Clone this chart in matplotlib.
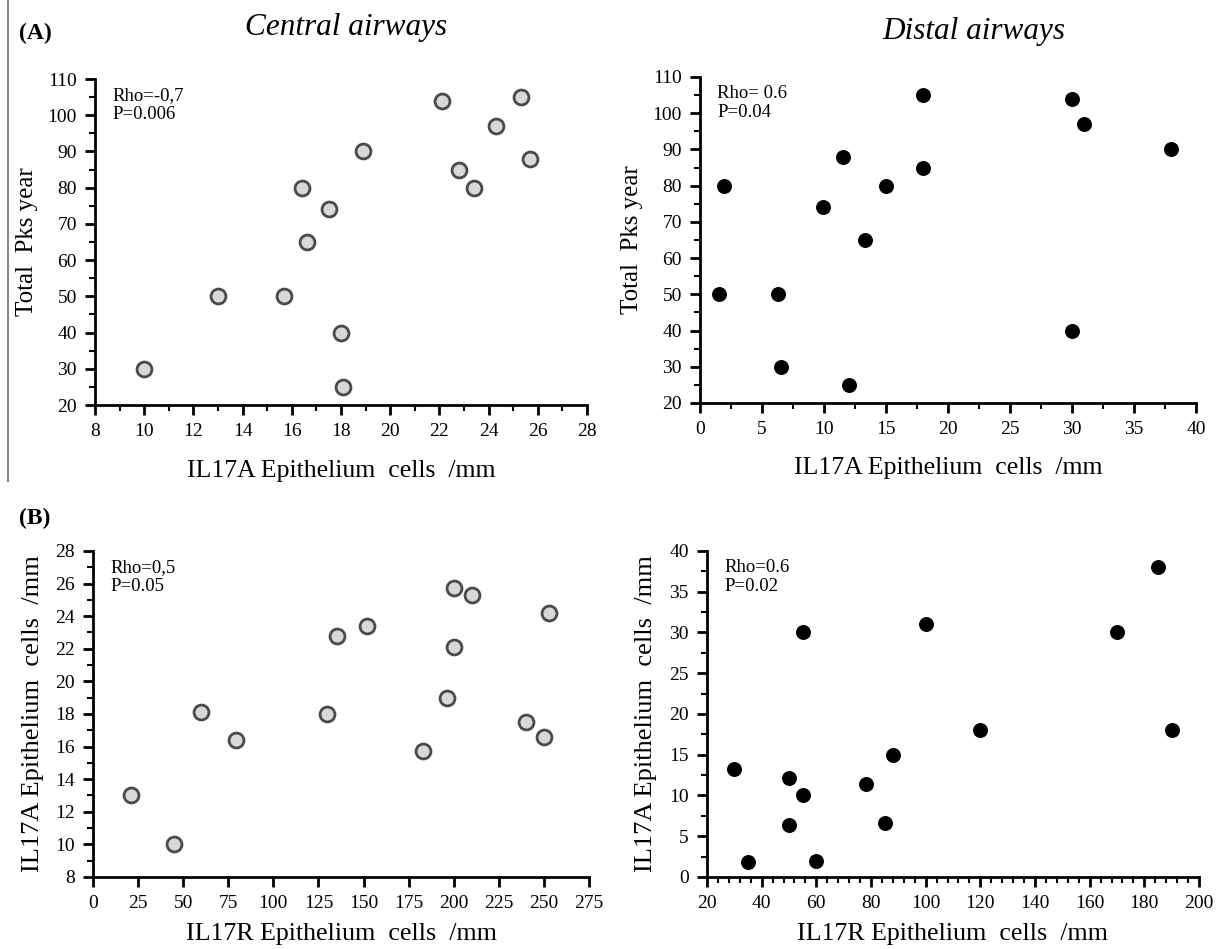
import matplotlib.pyplot as plt
from matplotlib.ticker import MultipleLocator, AutoMinorLocator
from matplotlib.lines import Line2D

# (A) central airways: IL17A epithelium vs total pack years
central_il17a = [10, 13, 15.7, 16.4, 16.6, 17.5, 18, 18.1, 18.9, 22.1, 22.8, 23.4, 24.3, 25.3, 25.7]
central_pks = [30, 50, 50, 80, 65, 74, 40, 25, 90, 104, 85, 80, 97, 105, 88]

# (A) distal airways
distal_il17a = [1.5, 1.9, 6.3, 6.5, 9.9, 11.5, 12, 13.3, 15, 18, 18, 30, 30, 31, 38]
distal_pks = [50, 80, 50, 30, 74, 88, 25, 65, 80, 105, 85, 104, 40, 97, 90]

# (B) central airways: IL17R vs IL17A
central_il17r = [21, 45, 60, 79, 130, 135, 152, 183, 196, 200, 200, 210, 240, 250, 253]
central_il17a_b = [13, 10, 18.1, 16.4, 18, 22.8, 23.4, 15.7, 19, 25.7, 22.1, 25.3, 17.5, 16.6, 24.2]

# (B) distal airways
distal_il17r = [30, 35, 50, 50, 55, 55, 60, 78, 85, 88, 100, 120, 170, 185, 190]
distal_il17a_b = [13.3, 1.8, 12.1, 6.4, 10, 30, 2, 11.4, 6.6, 15, 31, 18, 30, 38, 18]

plt.rcParams['font.family'] = ['Liberation Serif', 'DejaVu Serif']

fig = plt.figure(figsize=(12.21, 9.49), dpi=100)

ax1 = fig.add_axes([0.0778, 0.5732, 0.403, 0.3435])
ax2 = fig.add_axes([0.5733, 0.5754, 0.4062, 0.3435])
ax3 = fig.add_axes([0.0762, 0.0759, 0.4062, 0.3435])
ax4 = fig.add_axes([0.5790, 0.0759, 0.4030, 0.3435])

gray = dict(s=115, facecolor="#d8d8d8", edgecolor="#4a4a4a", linewidths=2, zorder=3, clip_on=False)
black = dict(s=95, facecolor="black", edgecolor="black", linewidths=1, zorder=3, clip_on=False)

ax1.scatter(central_il17a, central_pks, **gray)
ax2.scatter(distal_il17a, distal_pks, **black)
ax3.scatter(central_il17r, central_il17a_b, **gray)
ax4.scatter(distal_il17r, distal_il17a_b, **black)


def style(ax, xlim, xstep, xminor, ylim, ystep, yminor, xlabel, ylabel,
          xlabelsize, ylabelsize, xpad, ypad):
    ax.set_xlim(*xlim)
    ax.set_ylim(*ylim)
    ax.xaxis.set_major_locator(MultipleLocator(xstep))
    ax.yaxis.set_major_locator(MultipleLocator(ystep))
    if xminor > 1:
        ax.xaxis.set_minor_locator(AutoMinorLocator(xminor))
    if yminor > 1:
        ax.yaxis.set_minor_locator(AutoMinorLocator(yminor))
    for s in ["top", "right"]:
        ax.spines[s].set_visible(False)
    for s in ["left", "bottom"]:
        ax.spines[s].set_linewidth(2)
    ax.tick_params(which="major", direction="out", length=7, width=2, labelsize=14, pad=6)
    ax.tick_params(which="minor", direction="out", length=4, width=1.5)
    ax.set_xlabel(xlabel, fontsize=xlabelsize, labelpad=xpad)
    ax.set_ylabel(ylabel, fontsize=ylabelsize, labelpad=ypad)


style(ax1, (8, 28), 2, 2, (20, 110), 10, 2, "IL17A Epithelium  cells  /mm",
      "Total  Pks year", 18.5, 18, 14, 7)
style(ax2, (0, 40), 5, 2, (20, 110), 10, 2, "IL17A Epithelium  cells  /mm",
      "Total  Pks year", 18.5, 18, 14, 7)
style(ax3, (0, 275), 25, 1, (8, 28), 2, 2, "IL17R Epithelium  cells  /mm",
      "IL17A Epithelium  cells  /mm", 18.7, 19, 8, 8)
style(ax4, (20, 200), 20, 5, (0, 40), 5, 2, "IL17R Epithelium  cells  /mm",
      "IL17A Epithelium  cells  /mm", 18.7, 19, 8, 9)

notes = [(ax1, "Rho=-0,7\nP=0.006"), (ax2, "Rho= 0.6\nP=0.04"),
         (ax3, "Rho=0,5\nP=0.05"), (ax4, "Rho=0.6\nP=0.02")]
for ax, txt in notes:
    ax.text(0.035, 0.975, txt, transform=ax.transAxes, fontsize=13.5,
            va="top", ha="left", linespacing=1.15)

fig.text(346 / 1221, 1 - 27 / 949, "Central airways", fontsize=22.5, style="italic", ha="center", va="center")
fig.text(974 / 1221, 1 - 31 / 949, "Distal airways", fontsize=22.5, style="italic", ha="center", va="center")
fig.text(19 / 1221, 1 - 33 / 949, "(A)", fontsize=17, fontweight="bold", ha="left", va="center")
fig.text(19 / 1221, 1 - 518 / 949, "(B)", fontsize=17, fontweight="bold", ha="left", va="center")

# thin gray rule on the left edge of panel A
fig.add_artist(Line2D([8 / 1221, 8 / 1221], [1.0, 1 - 481 / 949], color="#888888", linewidth=1.5))

plt.savefig("out.png", dpi=100)
